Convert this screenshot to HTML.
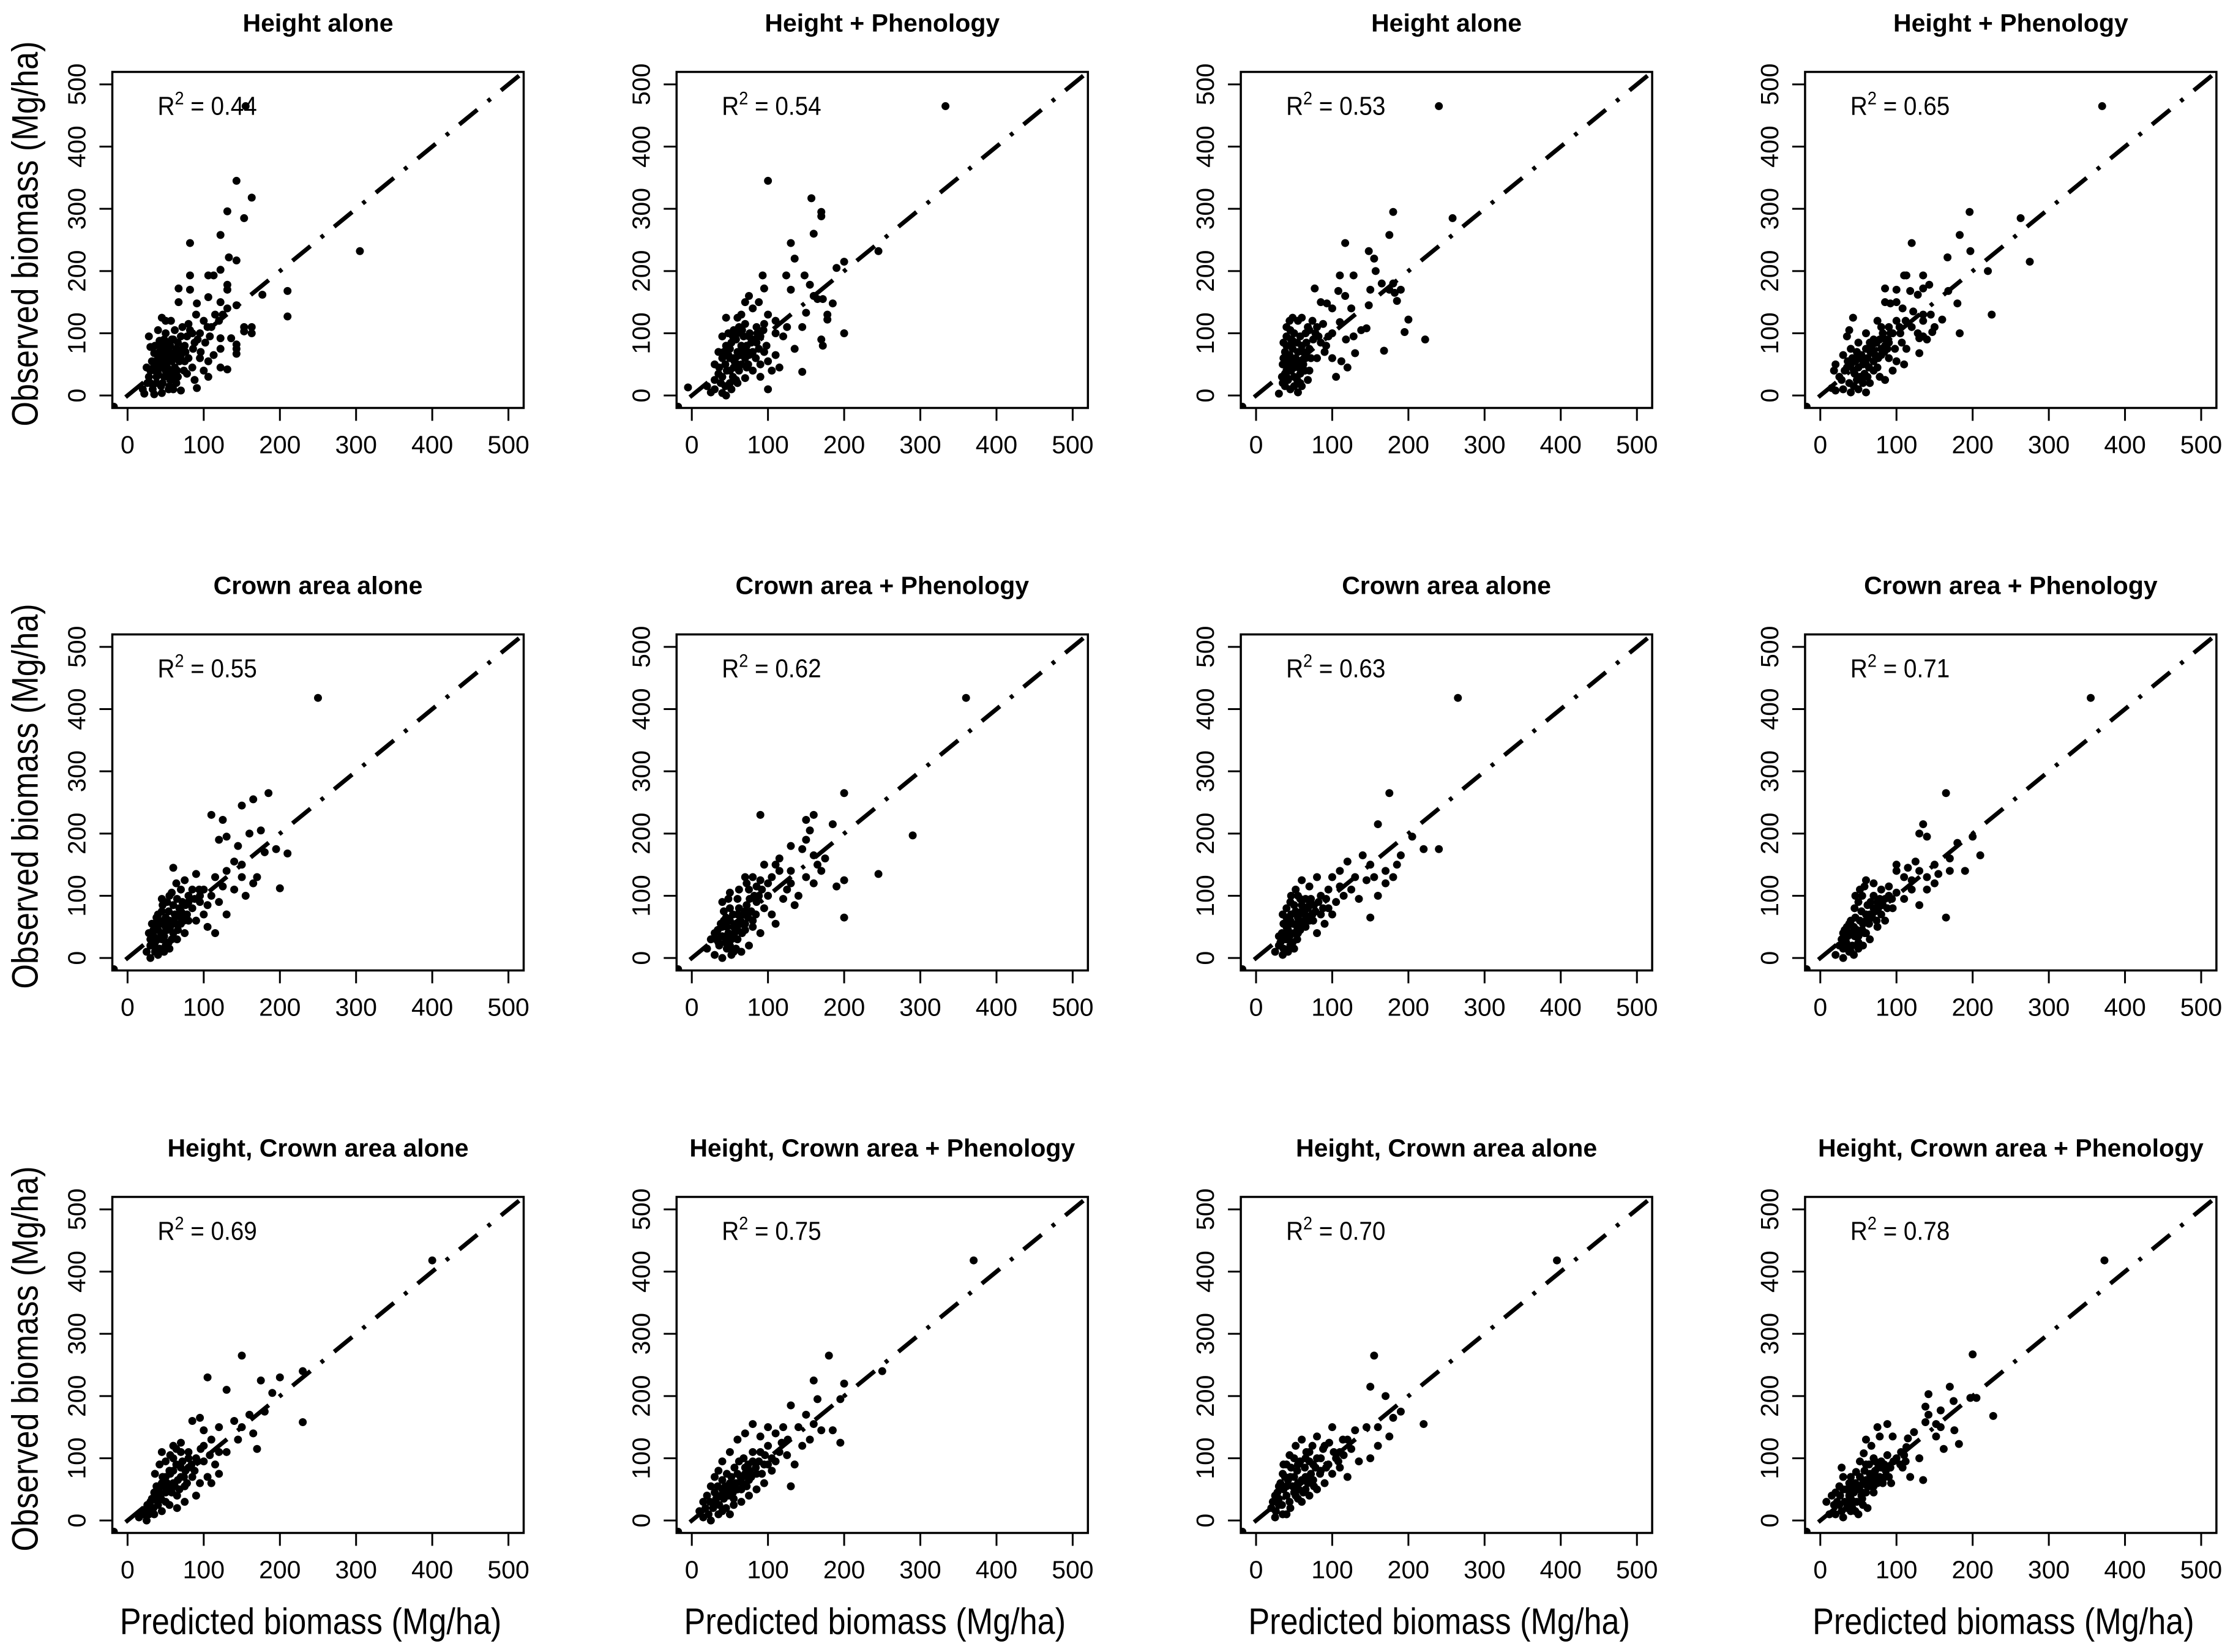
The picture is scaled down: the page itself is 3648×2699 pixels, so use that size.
<!DOCTYPE html>
<html><head><meta charset="utf-8">
<style>
html,body{margin:0;padding:0;background:#fff;}
svg{display:block;}
text{font-family:"Liberation Sans",Arial,sans-serif;fill:#000;}
</style></head>
<body>
<svg id="fig" width="3648" height="2699" viewBox="0 0 3648 2699" xmlns="http://www.w3.org/2000/svg"></svg>
<script>
const titles = ["Height alone","Height + Phenology","Height alone","Height + Phenology",
"Crown area alone","Crown area + Phenology","Crown area alone","Crown area + Phenology",
"Height, Crown area alone","Height, Crown area + Phenology","Height, Crown area alone","Height, Crown area + Phenology"];
const r2Values = ["0.44","0.54","0.53","0.65","0.55","0.62","0.63","0.71","0.69","0.75","0.70","0.78"];
const tickValues = [0,100,200,300,400,500];
const tickLabels = ["0","100","200","300","400","500"];
const axisMin = -20, axisMax = 520;

const p1 = [[-18,-18],[143,345],[163,318],[131,296],[153,285],[122,258],[82,245],[305,232],[133,222],[143,217],[122,202],[82,193],[106,193],[113,193],[67,172],[82,170],[210,168],[177,162],[106,158],[122,150],[131,178],[131,170],[67,150],[91,148],[143,145],[210,127],[131,140],[153,110],[163,110],[163,100],[153,103],[143,82],[143,75],[143,67],[122,92],[136,92],[122,75],[113,65],[106,55],[122,45],[131,42],[106,30],[91,12],[70,8],[45,125],[50,120],[57,120],[40,105],[28,95],[30,78],[35,68],[25,45],[20,10],[22,3],[30,20],[35,2],[45,4],[55,15],[60,30],[65,60],[70,95],[75,80],[80,60],[85,100],[90,130],[95,100],[100,120],[105,110],[110,110],[115,130],[120,120],[125,130],[60,90],[50,75],[40,50],[45,60],[55,70],[65,40],[75,55],[85,45],[95,60],[100,40],[48,30],[38,30],[28,30],[58,55],[68,70],[78,35],[88,25],[50,100],[42,88],[36,40],[32,55],[62,105],[72,110],[80,115],[92,90],[52,45],[44,15],[54,10],[64,20],[26,20],[33,10],[155,465]];
const p1b = [[40,60],[42,70],[44,80],[46,65],[48,50],[50,40],[52,35],[54,60],[56,80],[58,90],[60,65],[62,45],[64,75],[66,85],[68,55],[70,65],[72,75],[74,40],[76,70],[78,95],[48,90],[52,85],[56,25],[60,10],[38,20],[36,80],[34,45],[46,20],[66,30],[86,75],[96,70],[102,85],[108,95],[82,105],[88,85],[30,40],[40,35],[50,60],[58,40],[44,45]];
const p2 = [[-18,-18],[333,465],[100,345],[157,317],[170,295],[170,288],[160,260],[130,245],[135,220],[200,215],[245,232],[190,205],[93,193],[124,193],[148,193],[95,172],[130,170],[155,178],[160,160],[165,155],[185,148],[172,155],[150,133],[178,130],[178,122],[200,100],[170,90],[172,80],[135,75],[120,95],[110,100],[125,110],[145,110],[110,120],[100,130],[80,140],[88,150],[70,150],[75,160],[60,125],[45,125],[40,95],[55,105],[65,80],[75,65],[85,85],[95,70],[100,55],[110,65],[115,45],[105,40],[145,38],[100,10],[90,30],[70,28],[60,20],[40,4],[45,0],[30,10],[25,5],[20,15],[-5,13],[35,35],[50,60],[55,45],[45,80],[60,100],[30,50],[35,70],[50,20],[65,50],[80,40],[85,110],[95,115],[70,115],[55,60],[40,30],[50,40],[60,70],[30,25],[75,95],[65,130],[90,50]];
const p2b = [[40,60],[42,70],[44,50],[46,40],[48,65],[50,75],[52,85],[54,30],[56,55],[58,90],[60,50],[62,40],[64,65],[66,70],[68,95],[70,60],[72,80],[74,50],[76,100],[78,85],[80,70],[82,90],[84,60],[86,100],[88,75],[36,45],[38,20],[44,15],[52,10],[58,25],[62,110],[48,100],[54,95],[66,105],[72,45],[90,95],[94,105],[98,80]];
const p3 = [[-18,-18],[240,465],[180,295],[258,285],[175,258],[117,245],[148,232],[155,220],[157,200],[110,193],[128,193],[180,180],[175,170],[190,170],[182,165],[185,152],[165,180],[150,170],[77,172],[108,168],[117,160],[85,150],[93,148],[100,140],[125,140],[148,145],[200,122],[195,102],[222,90],[168,72],[130,68],[118,90],[128,95],[138,105],[145,108],[110,118],[100,100],[95,95],[80,110],[70,105],[60,125],[55,120],[45,105],[40,95],[45,80],[55,70],[65,60],[50,45],[40,30],[45,10],[55,5],[60,15],[35,20],[30,3],[40,40],[50,55],[60,80],[70,40],[80,60],[90,70],[100,60],[105,30],[120,45],[112,55],[85,85],[75,90],[65,100],[50,30],[42,60],[38,15],[58,35],[68,25],[48,88],[35,50]];
const p3b = [[36,60],[38,70],[40,80],[42,50],[44,65],[46,90],[48,75],[50,100],[52,60],[54,85],[56,45],[58,95],[60,55],[62,70],[64,40],[66,85],[68,110],[70,75],[72,60],[74,120],[38,35],[42,25],[46,40],[50,15],[54,25],[58,20],[62,50],[40,110],[44,120],[48,125],[36,85],[34,30],[78,100],[82,95],[88,115],[92,80]];
const p4 = [[-18,-18],[370,465],[196,295],[263,285],[183,258],[120,245],[197,232],[167,222],[275,215],[220,200],[225,130],[183,100],[160,122],[140,90],[147,102],[110,193],[113,193],[135,193],[85,172],[100,170],[118,168],[128,162],[135,172],[143,178],[168,168],[180,148],[85,150],[92,148],[100,150],[108,140],[122,135],[135,130],[145,130],[150,110],[135,120],[128,100],[120,110],[112,120],[105,100],[107,85],[113,75],[130,68],[135,95],[130,92],[95,100],[90,110],[75,120],[80,110],[70,90],[60,100],[43,125],[38,105],[35,95],[30,65],[20,50],[18,40],[25,30],[40,75],[50,60],[60,50],[70,70],[80,75],[90,60],[100,55],[110,50],[95,40],[85,25],[65,20],[60,5],[50,10],[40,5],[30,10],[20,8],[15,12],[45,35],[55,30],[75,45],[35,45],[50,85],[65,85],[85,80]];
const p4b = [[40,50],[42,60],[44,40],[46,55],[48,70],[50,45],[52,30],[54,65],[56,50],[58,35],[60,75],[62,60],[64,45],[66,70],[68,80],[70,55],[72,65],[74,85],[76,60],[78,90],[80,65],[82,100],[84,70],[86,90],[88,75],[90,85],[28,25],[32,40],[36,55],[38,20],[44,15],[48,25],[56,20],[62,30],[70,40],[78,30],[92,100],[98,75],[104,110],[100,120]];
const p5 = [[-18,-18],[250,418],[185,265],[165,255],[150,245],[110,230],[125,222],[175,205],[160,200],[130,195],[145,180],[195,175],[180,170],[210,168],[200,112],[120,190],[140,155],[150,150],[130,140],[170,130],[165,120],[155,100],[115,130],[100,110],[110,100],[95,100],[90,135],[75,125],[60,145],[70,110],[80,90],[85,80],[100,70],[105,50],[120,90],[130,70],[115,40],[90,60],[70,75],[60,85],[55,60],[45,75],[40,45],[30,30],[25,10],[30,0],[40,5],[50,20],[60,40],[70,55],[50,50],[45,30],[35,55],[65,30],[75,40],[80,60],[55,100],[65,95],[85,110],[140,110],[150,130],[105,85],[95,90],[125,115],[45,95],[35,20],[55,15],[28,40],[38,65]];
const p5b = [[30,20],[32,35],[34,45],[36,25],[38,50],[40,30],[42,60],[44,40],[46,55],[48,35],[50,65],[52,45],[54,75],[56,50],[58,30],[60,60],[62,70],[64,55],[66,45],[68,80],[70,65],[72,90],[74,60],[76,85],[78,70],[36,10],[42,15],[48,10],[54,25],[32,55],[40,70],[46,85],[52,90],[58,105],[64,120],[80,100],[88,95],[94,110]];
const p6 = [[-18,-18],[360,418],[200,265],[160,230],[150,222],[185,215],[290,197],[155,205],[130,180],[145,175],[175,160],[165,150],[200,125],[245,135],[190,115],[200,65],[110,150],[90,230],[115,140],[130,140],[150,130],[125,110],[100,100],[90,125],[80,130],[70,130],[75,110],[60,95],[85,90],[95,80],[105,70],[110,55],[90,40],[80,60],[70,75],[60,70],[50,80],[45,65],[40,50],[30,40],[20,15],[30,5],[40,0],[50,20],[60,30],[70,45],[55,50],[45,35],[35,25],[65,55],[75,20],[100,120],[120,95],[140,100],[135,85],[160,120],[170,140],[50,105],[40,90],[25,30],[55,10],[65,10],[85,115],[95,150],[105,130],[115,160],[130,120],[150,190],[160,165]];
const p6b = [[32,30],[34,45],[36,20],[38,55],[40,35],[42,60],[44,25],[46,50],[48,40],[50,60],[52,30],[54,70],[56,40],[58,55],[60,45],[62,80],[64,60],[66,40],[68,70],[70,55],[72,85],[74,65],[76,95],[78,75],[80,50],[82,100],[84,70],[46,15],[52,5],[58,15],[42,75],[48,95],[62,110],[72,120],[88,100],[92,110]];
const p7 = [[-18,-18],[265,418],[175,265],[205,195],[160,215],[220,175],[240,175],[190,165],[185,150],[170,140],[150,150],[140,165],[155,130],[145,125],[130,130],[120,155],[110,140],[100,130],[95,110],[85,100],[80,130],[70,115],[60,125],[55,100],[50,85],[45,60],[40,50],[35,70],[30,35],[25,10],[35,5],[45,20],[55,40],[65,50],[75,60],[85,70],[95,80],[105,90],[115,100],[125,110],[135,95],[150,65],[160,100],[170,120],[180,130],[60,75],[70,85],[40,30],[50,15],[80,40],[90,55],[100,70],[110,115],[65,95],[55,65],[45,90],[38,40],[30,20]];
const p7b = [[32,25],[34,40],[36,55],[38,30],[40,65],[42,45],[44,35],[46,70],[48,55],[50,40],[52,75],[54,50],[56,60],[58,45],[60,85],[62,55],[64,70],[66,65],[68,80],[70,60],[72,95],[74,70],[76,85],[78,75],[36,15],[42,10],[48,25],[54,30],[40,80],[46,100],[52,110],[58,95],[82,90],[88,80],[92,95]];
const p8 = [[-18,-18],[355,418],[165,265],[135,215],[130,200],[140,195],[200,195],[210,165],[170,160],[180,185],[150,150],[155,135],[140,130],[130,140],[120,125],[110,130],[100,140],[90,115],[80,110],[70,120],[60,125],[55,100],[50,90],[45,80],[40,60],[35,50],[30,40],[25,20],[20,5],[30,0],[40,10],[50,25],[55,45],[60,60],[65,70],[70,80],[75,90],[80,70],[85,95],[90,100],[95,80],[100,105],[110,95],[120,110],[130,85],[140,110],[150,120],[165,65],[190,140],[100,150],[60,40],[45,35],[75,50],[85,60],[35,15],[65,30],[115,145],[125,155],[170,140]];
const p8b = [[28,30],[30,15],[32,45],[34,25],[36,35],[38,55],[40,40],[42,20],[44,50],[46,65],[48,45],[50,35],[52,60],[54,75],[56,55],[58,40],[60,70],[62,85],[64,55],[66,90],[68,65],[70,100],[72,75],[74,60],[76,80],[78,95],[38,10],[44,5],[50,15],[56,20],[46,100],[52,110],[58,115],[82,85],[88,80],[94,95]];
const p9 = [[-18,-18],[400,418],[150,265],[230,240],[200,230],[105,230],[175,225],[190,205],[130,210],[230,158],[180,175],[160,170],[140,160],[150,150],[120,150],[110,130],[95,165],[85,160],[100,145],[120,110],[130,110],[145,130],[165,140],[170,115],[115,90],[100,95],[90,100],[80,100],[70,110],[60,100],[55,80],[50,70],[45,60],[40,50],[35,45],[30,30],[25,20],[20,10],[15,5],[25,0],[35,10],[45,15],[55,25],[65,40],[75,55],[85,70],[95,60],[105,70],[60,60],[70,70],[80,85],[50,45],[40,30],[30,15],[65,20],[90,40],[110,60],[120,75],[75,30],[45,110],[60,120]];
const p9b = [[22,15],[26,25],[28,10],[32,35],[34,20],[36,40],[38,55],[40,25],[42,45],[44,35],[46,70],[48,55],[50,30],[52,60],[54,50],[56,75],[58,45],[60,80],[62,55],[64,90],[66,65],[68,50],[70,85],[72,95],[74,70],[76,80],[78,60],[80,110],[84,90],[88,80],[92,95],[96,115],[36,75],[42,90],[50,95],[56,105],[64,115],[70,125],[100,120],[108,105]];
const p10 = [[-18,-18],[370,418],[180,265],[200,220],[250,240],[160,225],[195,195],[165,195],[130,185],[150,170],[160,155],[140,150],[120,150],[110,140],[100,150],[90,135],[80,155],[70,140],[60,130],[50,110],[40,95],[35,80],[30,70],[25,55],[20,40],[15,30],[10,15],[15,5],[25,0],[35,10],[45,20],[55,35],[65,50],[75,65],[85,75],[95,90],[105,100],[115,110],[125,105],[135,90],[145,120],[155,130],[170,145],[185,145],[195,125],[105,80],[95,60],[85,50],[75,40],[65,30],[55,25],[45,45],[50,60],[60,75],[70,85],[80,95],[90,110],[100,120],[40,50],[30,30],[130,55]];
const p10b = [[18,20],[22,10],[24,30],[28,20],[30,45],[32,35],[34,55],[36,25],[38,40],[40,65],[42,35],[44,55],[46,75],[48,40],[50,50],[52,70],[54,45],[56,85],[58,60],[60,50],[62,95],[64,70],[66,60],[68,100],[70,75],[72,55],[74,90],[76,80],[78,70],[80,110],[84,85],[88,95],[92,75],[96,105],[100,90],[110,95],[118,125],[126,130],[40,15],[50,10]];
const p11 = [[-18,-18],[395,418],[155,265],[150,215],[170,200],[190,175],[220,155],[180,165],[160,150],[145,150],[130,145],[120,130],[100,150],[110,110],[90,120],[80,135],[70,110],[60,130],[50,100],[40,90],[35,75],[30,55],[25,40],[20,20],[25,5],[35,10],[45,20],[55,35],[65,50],[75,65],[85,80],[95,90],[105,100],[115,105],[125,115],[135,95],[150,100],[160,120],[175,135],[90,60],[80,50],[70,40],[60,30],[50,45],[40,55],[30,25],[45,70],[55,60],[65,70],[75,90],[85,100],[100,75],[110,85],[120,70],[40,10],[55,90],[65,100]];
const p11b = [[22,30],[26,15],[28,45],[30,35],[32,60],[34,25],[36,50],[38,70],[40,40],[42,65],[44,30],[46,85],[48,55],[50,70],[52,40],[54,80],[56,50],[58,95],[60,65],[62,45],[64,85],[66,110],[68,60],[70,95],[72,75],[74,120],[76,55],[78,85],[80,100],[84,75],[88,115],[92,85],[96,125],[102,110],[108,95],[114,130],[36,90],[44,105],[52,120]];
const p12 = [[-18,-18],[373,418],[200,267],[170,215],[142,203],[175,192],[205,197],[197,197],[227,168],[138,183],[158,177],[142,170],[176,145],[182,123],[162,115],[152,155],[158,150],[152,135],[138,158],[115,132],[123,142],[113,118],[110,105],[112,95],[118,70],[135,65],[105,90],[130,100],[95,135],[88,155],[75,150],[78,135],[60,130],[67,120],[57,108],[52,95],[60,90],[70,100],[80,95],[88,105],[93,60],[85,70],[75,60],[70,45],[65,55],[62,20],[55,35],[48,55],[47,78],[40,70],[28,85],[30,70],[25,55],[20,45],[15,40],[8,30],[12,10],[18,25],[25,25],[30,5],[35,20],[40,15],[45,30],[50,10],[55,45],[60,65],[65,75],[72,80],[80,85],[85,70],[38,40],[42,50]];
const p12b = [[20,10],[22,30],[26,40],[28,15],[32,30],[34,50],[36,25],[38,60],[40,35],[42,20],[44,45],[46,60],[48,30],[50,50],[52,70],[54,40],[56,60],[58,80],[60,45],[62,55],[64,90],[66,65],[68,75],[70,55],[72,95],[74,65],[76,85],[78,70],[82,60],[84,90],[86,80],[90,70],[92,85],[96,95],[100,100],[106,110],[108,85],[30,50],[46,15],[56,25]];
const panelData = [p1.concat(p1b),p2.concat(p2b),p3.concat(p3b),p4.concat(p4b),p5.concat(p5b),p6.concat(p6b),p7.concat(p7b),p8.concat(p8b),p9.concat(p9b),p10.concat(p10b),p11.concat(p11b),p12.concat(p12b)];

const NS = "http://www.w3.org/2000/svg";
const svg = document.getElementById("fig");
const W = 672, H = 549, L0 = 183.5, T0 = 117.5, DX = 921.8, DY = 919;
function mk(tag, attrs, parent){
  const e = document.createElementNS(NS, tag);
  for (const k in attrs) e.setAttribute(k, attrs[k]);
  parent.appendChild(e);
  return e;
}
for (let i = 0; i < 12; i++){
  const r = Math.floor(i/4), c = i%4;
  const L = L0 + c*DX, T = T0 + r*DY;
  const sx = v => L + (v - axisMin)/(axisMax - axisMin)*W;
  const sy = v => T + H - (v - axisMin)/(axisMax - axisMin)*H;
  const g = mk("g", {}, svg);
  
  
  const clipId = "clip" + i;
  const cp = mk("clipPath", {id: clipId}, g);
  mk("rect", {x: L, y: T, width: W, height: H}, cp);

  const title = mk("text", {x: L + W/2, y: T - 66, "text-anchor": "middle", "font-size": 41, "font-weight": "bold"}, g);
  title.textContent = titles[i];
  
  

  const line = mk("line", {x1: sx(axisMin), y1: sy(axisMin), x2: sx(axisMax), y2: sy(axisMax), stroke: "#000", "stroke-width": 7, "stroke-dasharray": "6 22 38 22", "clip-path": "url(#" + clipId + ")"}, g);
  
  

  const pts = mk("g", {"clip-path": "url(#" + clipId + ")"}, g);
  
  
  for (const d of panelData[i]){
    const ci = mk("circle", {cx: sx(d[0]), cy: sy(d[1]), r: 6.5, fill: "#000"}, pts);
    
    
  }

  const box = mk("rect", {x: L, y: T, width: W, height: H, fill: "none", stroke: "#000", "stroke-width": 3.5}, g);
  
  

  const r2 = mk("text", {x: 0, y: 0, "font-size": 43, transform: "translate(" + (L + 74) + "," + (T + 70) + ") scale(0.9,1)"}, g);
  
  
  r2.innerHTML = 'R<tspan dy="-17" font-size="30">2</tspan><tspan dy="17"> = ' + r2Values[i] + '</tspan>';

  for (let k = 0; k < tickValues.length; k++){
    const v = tickValues[k];
    const xt = mk("line", {x1: sx(v), y1: T + H, x2: sx(v), y2: T + H + 21, stroke: "#000", "stroke-width": 3}, g);
    
    
    const xl = mk("text", {x: sx(v), y: T + H + 74, "text-anchor": "middle", "font-size": 41}, g);
    xl.textContent = tickLabels[k];
    
    
    const yt = mk("line", {x1: L, y1: sy(v), x2: L - 21, y2: sy(v), stroke: "#000", "stroke-width": 3}, g);
    
    
    const yl = mk("text", {x: 0, y: 0, "text-anchor": "middle", "font-size": 41, transform: "translate(" + (L - 44) + "," + sy(v) + ") rotate(-90)"}, g);
    yl.textContent = tickLabels[k];
    
    
  }
  if (c === 0){
    const yt = mk("text", {x: 0, y: 0, "text-anchor": "middle", "font-size": 60, transform: "translate(" + (L - 122) + "," + (T + H/2 - 10) + ") rotate(-90) scale(0.87,1)"}, g);
    yt.textContent = "Observed biomass (Mg/ha)";
    
    
  }
  if (r === 2){
    const xt = mk("text", {x: 0, y: 0, "text-anchor": "middle", "font-size": 60, transform: "translate(" + (L + W/2 - 12) + "," + (T + H + 165) + ") scale(0.87,1)"}, g);
    xt.textContent = "Predicted biomass (Mg/ha)";
    
    
  }
}
</script>
</body></html>
